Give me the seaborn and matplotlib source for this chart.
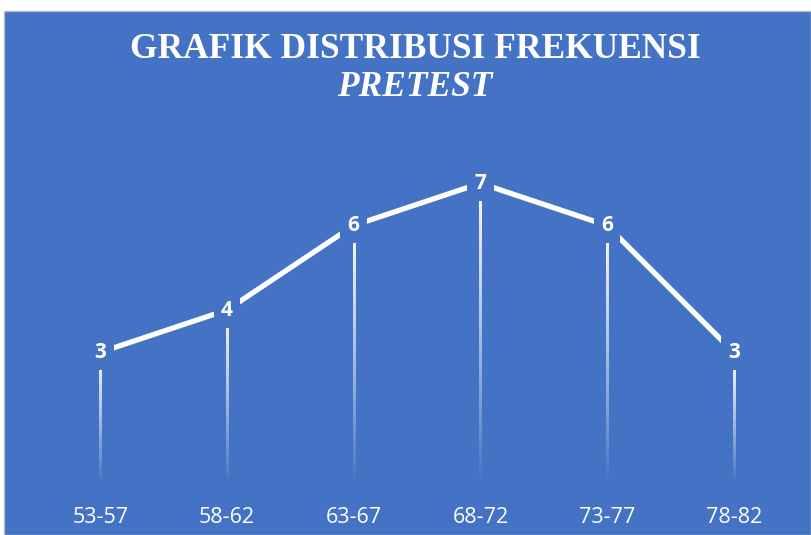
import matplotlib
matplotlib.use("Agg")
import matplotlib.pyplot as plt
import numpy as np
import pandas as pd
import seaborn as sns
from matplotlib.patches import Rectangle

# Frequency per score interval (pretest)
intervals = ["53-57", "58-62", "63-67", "68-72", "73-77", "78-82"]
frequencies = [3, 4, 6, 7, 6, 3]

BLUE = "#4472C4"

df = pd.DataFrame({"interval": intervals, "freq": frequencies})

sns.set_theme(style="white")
plt.rcParams["font.family"] = ["Open Sans", "DejaVu Sans"]

W, H = 811, 535
fig = plt.figure(figsize=(W / 100, H / 100), dpi=100, facecolor="white")

# blue chart area with a thin grey border (small white margin top/left)
fig.patches.append(Rectangle((4 / W, 0), 1 - 4 / W, 1 - 11 / H,
                             transform=fig.transFigure, facecolor=BLUE,
                             edgecolor="#b8bcc4", linewidth=1.0, zorder=-10))

ax = fig.add_axes([37 / W, (H - 479) / H, 760 / W, 338 / H])
ax.set_zorder(5)
ax.set_facecolor("none")

sns.lineplot(data=df, x="interval", y="freq", color="white", linewidth=3.8,
             ax=ax, zorder=3, sort=False)

# drop lines fading from white (top) to transparent (bottom)
xpos = np.arange(len(intervals))
grad = np.zeros((200, 1, 4))
grad[..., :3] = 1.0
grad[:, 0, 3] = np.linspace(1.0, 0.0, 200) ** 0.9
half_w = 1.0 / 126.6  # ~2 px wide
for x, v in zip(xpos, frequencies):
    ax.imshow(grad, extent=[x - half_w, x + half_w, -0.1, v], origin="upper",
              aspect="auto", interpolation="bilinear", zorder=2)

# data labels with a blue box that hides the lines behind them
for x, v in zip(xpos, frequencies):
    ax.text(x, v, str(v), ha="center", va="center", color="white",
            fontsize=15, fontweight="bold", zorder=5,
            bbox=dict(boxstyle="square,pad=0.35", facecolor=BLUE, edgecolor="none"))

ax.set_xlim(-0.5, len(intervals) - 0.5)
ax.set_ylim(0, 8)
ax.set_xlabel("")
ax.set_ylabel("")
ax.set_yticks([])
ax.set_xticks(xpos)
ax.set_xticklabels(intervals, color="white", fontsize=15.5)
ax.tick_params(axis="x", length=0, pad=20)
for s in ax.spines.values():
    s.set_visible(False)
ax.grid(False)

fig.text(415 / W, 1 - 50 / H, "GRAFIK DISTRIBUSI FREKUENSI", ha="center", va="center",
         color="white", fontsize=25.5, fontweight="bold", family="Liberation Serif")
fig.text(415 / W, 1 - 87 / H, "PRETEST", ha="center", va="center",
         color="white", fontsize=25.5, fontweight="bold", fontstyle="italic",
         family="Liberation Serif")

fig.savefig("out.png", dpi=100, facecolor="white")
